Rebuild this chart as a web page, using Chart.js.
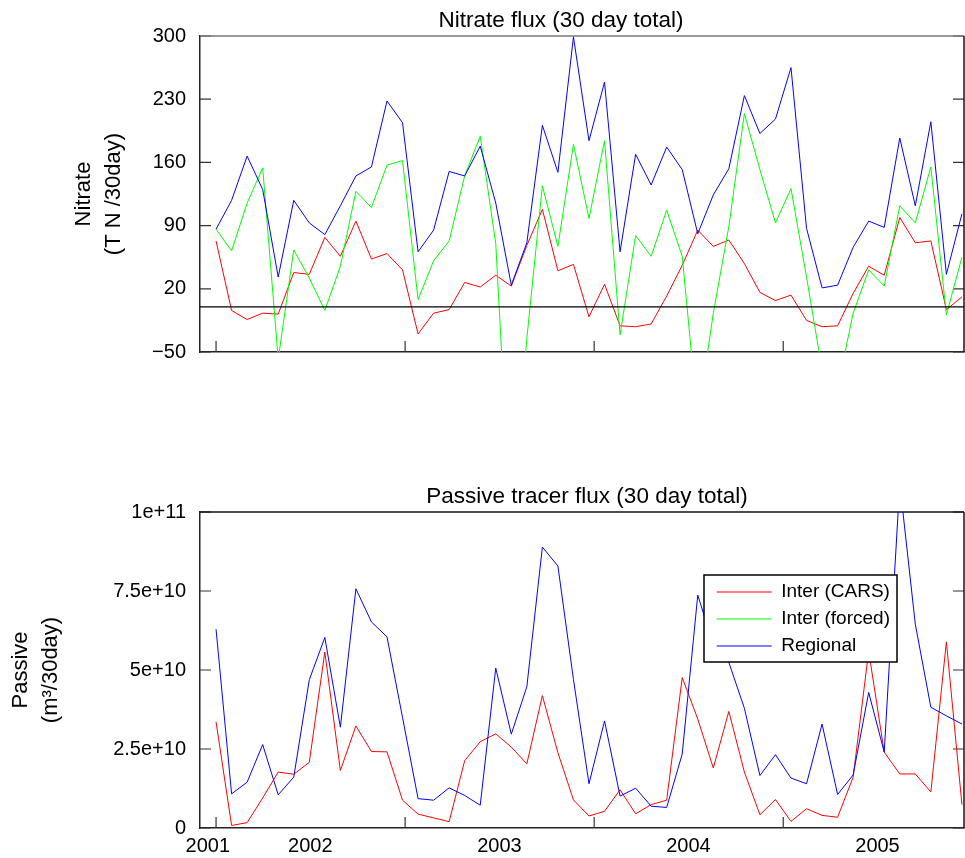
<!DOCTYPE html>
<html><head><meta charset="utf-8">
<script src="https://cdn.jsdelivr.net/npm/chart.js@4"></script>
<style>
html,body{margin:0;padding:0;background:#fff;}
#wrap{position:relative;width:965px;height:858px;overflow:hidden;background:#fff;}
canvas{position:absolute;left:0;}
</style></head><body>
<div id="wrap">
<canvas id="c1" width="965" height="382" style="top:0px"></canvas>
<canvas id="c2" width="965" height="382" style="top:476px"></canvas>
</div>
<script>
// ---- data (30-day totals, x in days since 2001-01-01) ----
const days = [0,30,60,90,120,150,180,210,240,270,300,330,360,390,420,450,480,510,540,570,600,630,660,690,720,750,780,810,840,870,900,930,960,990,1020,1050,1080,1110,1140,1170,1200,1230,1260,1290,1320,1350,1380,1410,1440];

const nitrateCARS = [73,-4,-14,-7,-8,38,36,77,56,95,53,59,41,-30,-7,-3,27,22,35,23,68,108,40,47,-11,25,-21,-22,-19,12,46,85,67,74,48,16,7,13,-15,-22,-21,15,45,35,99,71,73,-3,11];
const nitrateForced = [86,62,115,154,-58,63,32,-4,45,128,110,157,162,8,51,73,145,189,70,-250,-35,134,67,180,98,184,-31,79,56,107,56,-125,-7,89,214,152,93,131,33,-70,-90,-7,41,23,112,93,155,-9,55];
const nitrateRegional = [86,118,167,130,33,118,93,80,112,145,155,228,204,61,85,150,145,178,115,24,71,201,149,299,184,249,61,169,135,177,152,81,124,153,234,192,208,265,87,21,24,66,95,88,187,112,205,36,103];

const passiveCARS = [3.36e10,0.08e10,0.17e10,0.95e10,1.77e10,1.70e10,2.08e10,5.57e10,1.82e10,3.23e10,2.42e10,2.41e10,0.88e10,0.44e10,0.32e10,0.20e10,2.13e10,2.73e10,2.98e10,2.56e10,2.03e10,4.19e10,2.38e10,0.89e10,0.38e10,0.53e10,1.21e10,0.45e10,0.74e10,0.88e10,4.76e10,3.45e10,1.90e10,3.69e10,1.77e10,0.42e10,0.90e10,0.21e10,0.61e10,0.40e10,0.34e10,1.61e10,5.60e10,2.40e10,1.71e10,1.71e10,1.14e10,5.89e10,0.74e10];
const passiveForced = [];
const passiveRegional = [6.29e10,1.08e10,1.45e10,2.64e10,1.05e10,1.61e10,4.69e10,6.03e10,3.19e10,7.57e10,6.52e10,6.05e10,3.50e10,0.93e10,0.88e10,1.27e10,1.03e10,0.72e10,5.06e10,2.97e10,4.47e10,8.89e10,8.29e10,4.70e10,1.40e10,3.39e10,1.01e10,1.26e10,0.69e10,0.65e10,2.34e10,7.37e10,5.80e10,5.24e10,3.79e10,1.66e10,2.32e10,1.58e10,1.40e10,3.29e10,1.06e10,1.68e10,4.29e10,2.40e10,10.9e10,6.45e10,3.82e10,3.55e10,3.29e10];

const seriesNames = ['Inter (CARS)','Inter (forced)','Regional'];
const nitrateTicks = [-50,20,90,160,230,300];
const nitrateTickLabels = ['\u221250','20','90','160','230','300'];
const passiveTicks = [0,2.5e10,5e10,7.5e10,1e11];
const passiveTickLabels = ['0','2.5e+10','5e+10','7.5e+10','1e+11'];
const yearTickDays = [0,365,730,1095,1460];
const yearLabelDays = [-16,182,547,912,1277];
const yearLabels = ['2001','2002','2003','2004','2005'];
const xMin = -31, xMax = 1444;

// ---- chart setup ----
Chart.defaults.font.family = "'Liberation Sans', Arial, Helvetica, sans-serif";
Chart.defaults.color = '#000';

const pts = (vals) => vals.map((v, i) => ({x: days[i], y: v}));

const matlabAxes = {
  id: 'matlabAxes',
  beforeDatasetsDraw(chart, args, o) {
    const ctx = chart.ctx, a = chart.chartArea;
    const xs = chart.scales.x, ys = chart.scales.y;
    const L = 11;
    ctx.save();
    ctx.strokeStyle = '#333';
    ctx.lineWidth = 1.2;
    ctx.beginPath();
    ys.ticks.forEach(t => {
      const y = ys.getPixelForValue(t.value);
      ctx.moveTo(a.left, y); ctx.lineTo(a.left + L, y);
      ctx.moveTo(a.right, y); ctx.lineTo(a.right - L, y);
    });
    (o.xTicks || []).forEach(v => {
      const x = xs.getPixelForValue(v);
      if (x < a.left - 0.5 || x > a.right + 0.5) return;
      ctx.moveTo(x, a.bottom); ctx.lineTo(x, a.bottom - L);
    });
    ctx.stroke();
    ctx.lineWidth = 1.6;
    ctx.strokeStyle = o.topColor || '#222';
    ctx.beginPath(); ctx.moveTo(a.left, a.top); ctx.lineTo(a.right, a.top); ctx.stroke();
    ctx.strokeStyle = '#222';
    ctx.beginPath(); ctx.moveTo(a.right, a.top); ctx.lineTo(a.right, a.bottom); ctx.stroke();
    ctx.restore();
  }
};

const layoutTweaks = {
  id: 'layoutTweaks',
  beforeLayout(chart, args, o) {
    const lg = chart.legend;
    if (lg && o.legendBox) {
      const b = o.legendBox;
      lg._layers = () => [{
        z: 10,
        draw(ca) {
          const ctx = chart.ctx;
          ctx.save();
          ctx.fillStyle = '#fff';
          ctx.fillRect(b.left, b.top, b.right - b.left, b.bottom - b.top);
          ctx.strokeStyle = '#000';
          ctx.lineWidth = 1.5;
          ctx.strokeRect(b.left, b.top, b.right - b.left, b.bottom - b.top);
          ctx.restore();
          lg.left = b.itemLeft; lg.top = b.itemTop;
          lg.right = b.right; lg.bottom = chart.chartArea.bottom;
          lg.width = lg.right - lg.left; lg.height = lg.bottom - lg.top;
          lg.draw(ca);
        }
      }];
    }
  },
  afterLayout(chart, args, o) {
    const t = chart.titleBlock;
    if (t && o.titleCenter) {
      const half = (t.right - t.left) / 2;
      t.left = o.titleCenter - half;
      t.right = o.titleCenter + half;
    }
  }
};

function yAxis(ticks, labels, titleLines, titlePadTop, min, max) {
  return {
    type: 'linear', min: min, max: max,
    afterBuildTicks: (s) => { s.ticks = ticks.map(v => ({value: v})); },
    afterFit: (s) => { s.width = 200; },
    grid: {display: false, drawTicks: false},
    border: {display: true, color: '#222', width: 1.5},
    ticks: {padding: 14, font: {size: 20}, color: '#000', callback: (v, i) => labels[i]},
    title: {display: true, text: titleLines, color: '#000',
            font: {size: 22, lineHeight: 30 / 22}, padding: {top: titlePadTop, bottom: 0}}
  };
}

function xAxis(showLabels) {
  return {
    type: 'linear', min: xMin, max: xMax,
    afterBuildTicks: (s) => { s.ticks = yearLabelDays.map(v => ({value: v})); },
    afterFit: (s) => { s.height = 30; },
    grid: {display: false, drawTicks: false},
    border: {display: true, color: '#222', width: 1.5},
    ticks: {display: showLabels, padding: 6, font: {size: 20}, color: '#000',
            autoSkip: false, maxRotation: 0, minRotation: 0,
            callback: (v, i) => yearLabels[i]}
  };
}

const lineDs = (label, color, vals, order) => ({
  label: label, data: pts(vals), borderColor: color, backgroundColor: color,
  borderWidth: 1, pointRadius: 0, pointHoverRadius: 0, tension: 0, fill: false, order: order
});

const titleOpts = (text) => ({
  display: true, text: text, color: '#000',
  font: {size: 22.5, weight: 'normal', lineHeight: 1.2}, padding: {top: 7, bottom: 2}
});

new Chart(document.getElementById('c1'), {
  type: 'line',
  data: {datasets: [
    lineDs(seriesNames[0], '#ff0000', nitrateCARS, 2),
    lineDs(seriesNames[1], '#00ff00', nitrateForced, 1),
    lineDs(seriesNames[2], '#0000ff', nitrateRegional, 0),
    {label: 'zero', data: [{x: xMin, y: 0}, {x: xMax, y: 0}], borderColor: '#000', borderWidth: 1.2,
     pointRadius: 0, fill: false, order: -1}
  ]},
  options: {
    responsive: false, animation: false, devicePixelRatio: 1,
    layout: {padding: {left: 0, right: 1, top: 0, bottom: 0}},
    scales: {
      x: xAxis(false),
      y: yAxis(nitrateTicks, nitrateTickLabels, ['Nitrate', '(T N /30day)'], 69, -50, 300)
    },
    plugins: {
      legend: {display: false},
      tooltip: {enabled: false},
      title: titleOpts('Nitrate flux (30 day total)'),
      matlabAxes: {xTicks: yearTickDays, topColor: '#777'},
      layoutTweaks: {titleCenter: 561}
    }
  },
  plugins: [matlabAxes, layoutTweaks]
});

new Chart(document.getElementById('c2'), {
  type: 'line',
  data: {datasets: [
    lineDs(seriesNames[0], '#ff0000', passiveCARS, 2),
    lineDs(seriesNames[1], '#00ff00', passiveForced, 1),
    lineDs(seriesNames[2], '#0000ff', passiveRegional, 0)
  ]},
  options: {
    responsive: false, animation: false, devicePixelRatio: 1,
    layout: {padding: {left: 0, right: 1, top: 0, bottom: 0}},
    scales: {
      x: xAxis(true),
      y: yAxis(passiveTicks, passiveTickLabels, ['Passive', '(m\u00B3/30day)'], 6, 0, 1e11)
    },
    plugins: {
      legend: {
        display: true, position: 'chartArea', align: 'start',
        labels: {
          usePointStyle: true, pointStyle: 'line', pointStyleWidth: 55,
          padding: 8, font: {size: 19}, color: '#000',
          sort: (a, b) => a.datasetIndex - b.datasetIndex
        }
      },
      tooltip: {enabled: false},
      title: titleOpts('Passive tracer flux (30 day total)'),
      matlabAxes: {xTicks: yearTickDays, topColor: '#111'},
      layoutTweaks: {titleCenter: 587,
        legendBox: {left: 704, top: 99, right: 897, bottom: 186, itemLeft: 708.7, itemTop: 98.5}}
    }
  },
  plugins: [matlabAxes, layoutTweaks]
});
</script>
</body></html>
